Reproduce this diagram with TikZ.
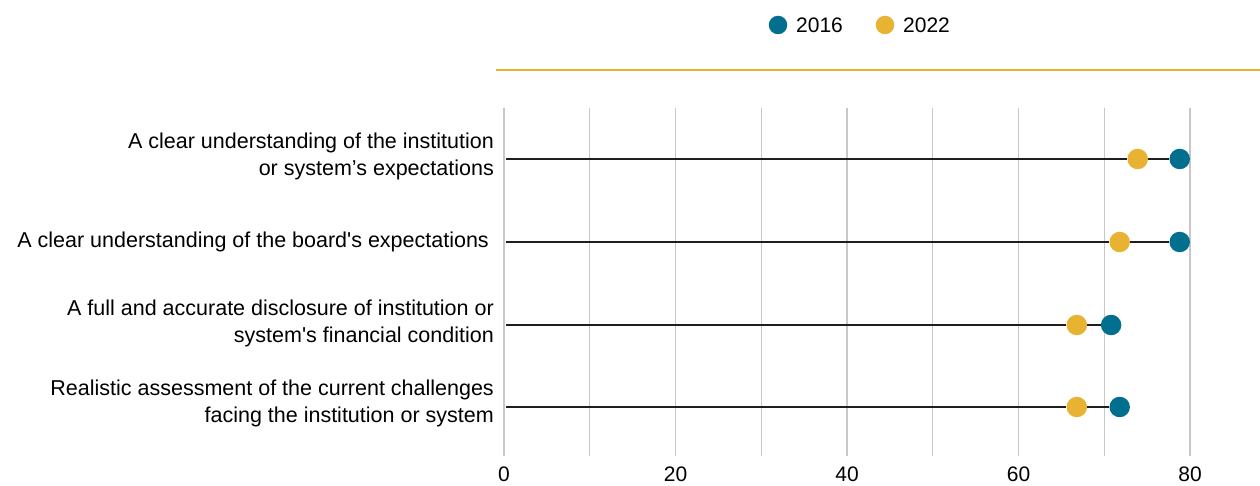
\documentclass[tikz,border=0pt]{standalone}
\usepackage{fontspec}
\setmainfont{Liberation Sans}
\definecolor{teal16}{HTML}{016F8D}
\definecolor{gold22}{HTML}{E8B232}
\definecolor{gridc}{HTML}{C8C8C8}
\definecolor{linec}{HTML}{1E1E1E}
\begin{document}
\begin{tikzpicture}[x=1pt,y=-1pt,
  lbl/.style={font=\fontsize{21.5}{27}\selectfont, align=right, anchor=east, inner sep=0pt},
  tick/.style={font=\fontsize{21}{24}\selectfont, inner sep=0pt},
  dotA/.style={circle, fill=teal16, minimum size=20.5pt, inner sep=0pt},
  dotB/.style={circle, fill=gold22, minimum size=20.5pt, inner sep=0pt},
  grid/.style={draw=gridc, line width=1.2pt},
  stem/.style={draw=linec, line width=2.4pt}]
\useasboundingbox (0,0) rectangle (1260,486);
% legend
\node[dotA, minimum size=18.5pt] (l16) at (778,25) {};
\node[tick, anchor=west] (t16) at (796,25) {2016};
\node[dotB, minimum size=18.5pt] (l22) at (885,25) {};
\node[tick, anchor=west] (t22) at (903,25) {2022};
% orange rule
\draw[draw=gold22, line width=2pt] (496,70) -- (1260,70);
% grid
\foreach \i in {0,...,8} {
  \draw[grid] ({504+\i*85.75},108) -- ({504+\i*85.75},456);
}
% ticks
\foreach \v in {0,20,40,60,80} {
  \node[tick] (tk\v) at ({504+\v*8.575},474) {\v};
}
% row coordinates
\coordinate (s1) at (506,159);
\coordinate (s2) at (506,242);
\coordinate (s3) at (506,325);
\coordinate (s4) at (506,407);
% dots
\node[dotB] (b1) at ({504+73.9*8.575},159) {};
\node[dotA] (a1) at ({504+78.8*8.575},159) {};
\node[dotB] (b2) at ({504+71.8*8.575},242) {};
\node[dotA] (a2) at ({504+78.8*8.575},242) {};
\node[dotB] (b3) at ({504+66.8*8.575},325) {};
\node[dotA] (a3) at ({504+70.8*8.575},325) {};
\node[dotB] (b4) at ({504+66.8*8.575},407) {};
\node[dotA] (a4) at ({504+71.8*8.575},407) {};
% stems
\draw[stem] (s1) -- (b1.west);
\draw[stem] (b1.east) -- (a1.west);
\draw[stem] (s2) -- (b2.west);
\draw[stem] (b2.east) -- (a2.west);
\draw[stem] (s3) -- (b3.west);
\draw[stem] (b3.east) -- (a3.west);
\draw[stem] (s4) -- (b4.west);
\draw[stem] (b4.east) -- (a4.west);
% labels
\node[lbl] (r1) at (494,156) {A clear understanding of the institution\\or system’s expectations};
\node[lbl] (r2) at (489,242) {A clear understanding of the board\textquotesingle s expectations};
\node[lbl] (r3) at (494,323) {A full and accurate disclosure of institution or\\system\textquotesingle s financial condition};
\node[lbl] (r4) at (494,403) {Realistic assessment of the current challenges\\facing the institution or system};
\end{tikzpicture}
\end{document}
